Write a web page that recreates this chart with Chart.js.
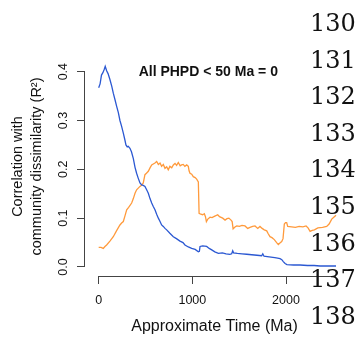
<!DOCTYPE html>
<html>
<head>
<meta charset="utf-8">
<script src="https://cdn.jsdelivr.net/npm/chart.js@4.4.0/dist/chart.umd.min.js"></script>
<style>
  html, body { margin: 0; padding: 0; background: #fff; }
  #wrap { position: relative; width: 362px; height: 341px; }
  #lines {
    position: absolute; left: 310px; top: 5px;
    font-family: "DejaVu Serif", serif; font-size: 24px; line-height: 36.6px;
    color: #111;
  }
</style>
</head>
<body>
<div id="wrap">
  <canvas id="lineChart" width="362" height="341"></canvas>
  <div id="lines">130<br>131<br>132<br>133<br>134<br>135<br>136<br>137<br>138</div>
</div>
<script>
// time in Ma, R²
const blueTime = [0, 15, 30, 45, 60, 70, 85, 100, 120, 140, 156, 175, 192, 210, 227, 245, 263, 280, 291, 305,
  316, 334, 350, 370, 388, 405, 420, 441, 459, 476, 494, 512, 530, 548, 566, 583, 601, 619, 637, 655,
  672, 690, 708, 726, 760, 797, 830, 868, 900, 921, 957, 993, 1030, 1064, 1075, 1082, 1110, 1153, 1180, 1207,
  1240, 1278, 1320, 1360, 1400, 1420, 1431, 1440, 1480, 1530, 1580, 1634, 1690, 1740, 1752, 1765, 1800, 1840, 1880, 1910,
  1936, 1955, 1971, 1990, 2010, 2080, 2150, 2230, 2300, 2363, 2440, 2534];
const blueR2 = [0.367, 0.375, 0.393, 0.398, 0.405, 0.411, 0.402, 0.396, 0.384, 0.370, 0.356, 0.342, 0.329, 0.316, 0.300, 0.288, 0.274, 0.260, 0.250, 0.246,
  0.247, 0.243, 0.236, 0.222, 0.204, 0.192, 0.183, 0.172, 0.168, 0.167, 0.165, 0.158, 0.151, 0.140, 0.131, 0.124, 0.117, 0.108, 0.100, 0.093,
  0.086, 0.083, 0.079, 0.076, 0.069, 0.062, 0.058, 0.053, 0.050, 0.045, 0.041, 0.038, 0.036, 0.031, 0.032, 0.042, 0.043, 0.042, 0.038, 0.035,
  0.031, 0.028, 0.029, 0.027, 0.026, 0.027, 0.033, 0.029, 0.028, 0.027, 0.026, 0.025, 0.024, 0.023, 0.027, 0.022, 0.021, 0.020, 0.019, 0.018,
  0.017, 0.015, 0.011, 0.007, 0.005, 0.004, 0.004, 0.003, 0.003, 0.002, 0.002, 0.002];

const orangeTime = [0, 25, 49, 67, 85, 120, 156, 190, 227, 245, 263, 280, 299, 320, 352, 370, 388, 405, 420, 441,
  460, 476, 494, 510, 530, 548, 566, 583, 601, 619, 637, 655, 672, 690, 708, 726, 743, 760, 780, 797,
  815, 832, 850, 870, 885, 903, 920, 940, 957, 965, 975, 993, 1010, 1030, 1046, 1064, 1072, 1090, 1110, 1128,
  1140, 1150, 1165, 1189, 1210, 1240, 1271, 1290, 1324, 1349, 1370, 1390, 1413, 1425, 1435, 1455, 1474, 1502, 1530, 1562,
  1591, 1615, 1644, 1669, 1698, 1722, 1745, 1768, 1794, 1810, 1829, 1850, 1875, 1900, 1918, 1935, 1954, 1968, 1982, 1995,
  2007, 2018, 2060, 2100, 2140, 2180, 2214, 2235, 2257, 2280, 2303, 2340, 2390, 2434, 2460, 2488, 2510, 2534];
const orangeR2 = [0.040, 0.040, 0.038, 0.042, 0.045, 0.053, 0.062, 0.074, 0.086, 0.090, 0.093, 0.104, 0.117, 0.122, 0.131, 0.140, 0.151, 0.158, 0.161, 0.165,
  0.168, 0.172, 0.189, 0.192, 0.196, 0.203, 0.209, 0.211, 0.213, 0.216, 0.210, 0.213, 0.206, 0.210, 0.202, 0.205, 0.199, 0.206, 0.203, 0.209,
  0.212, 0.208, 0.214, 0.207, 0.209, 0.210, 0.206, 0.209, 0.206, 0.197, 0.192, 0.190, 0.185, 0.183, 0.180, 0.174, 0.110, 0.108, 0.107, 0.109,
  0.103, 0.093, 0.098, 0.102, 0.101, 0.104, 0.107, 0.103, 0.100, 0.096, 0.099, 0.100, 0.096, 0.093, 0.078, 0.082, 0.084, 0.083, 0.085, 0.084,
  0.079, 0.081, 0.083, 0.084, 0.079, 0.083, 0.079, 0.076, 0.074, 0.068, 0.062, 0.060, 0.056, 0.050, 0.046, 0.049, 0.052, 0.058, 0.088, 0.091,
  0.091, 0.083, 0.082, 0.081, 0.083, 0.082, 0.084, 0.080, 0.073, 0.075, 0.076, 0.080, 0.081, 0.083, 0.088, 0.098, 0.102, 0.106];

const xTicks = [0, 1000, 2000];
const xTickLabels = ["0", "1000", "2000"];
const yTicks = [0, 0.1, 0.2, 0.3, 0.4];
const yTickLabels = ["0.0", "0.1", "0.2", "0.3", "0.4"];
const panelLabel = "All PHPD < 50 Ma = 0";

Chart.defaults.font.family = "'Liberation Sans', Arial, sans-serif";
Chart.defaults.color = "#111";

const toPoints = (xs, ys) => xs.map((x, i) => ({ x: x, y: ys[i] }));

// R-style axes: lines only over the tick range, rotated y labels, panel text
const rAxes = {
  id: "rAxes",
  afterDraw(chart) {
    const ctx = chart.ctx;
    const xs = chart.scales.x;
    const ys = chart.scales.y;
    const left = chart.chartArea.left - 0.5;
    const bottom = chart.chartArea.bottom + 0.5;
    ctx.save();
    ctx.strokeStyle = "#444";
    ctx.lineWidth = 1;
    ctx.beginPath();
    ctx.moveTo(left, ys.getPixelForValue(yTicks[0]));
    ctx.lineTo(left, ys.getPixelForValue(yTicks[yTicks.length - 1]));
    ctx.moveTo(xs.getPixelForValue(xTicks[0]), bottom);
    ctx.lineTo(xs.getPixelForValue(blueTime[blueTime.length - 1]), bottom);
    ctx.stroke();

    ctx.fillStyle = "#111";
    ctx.font = "12.5px 'Liberation Sans', Arial, sans-serif";
    ctx.textAlign = "center";
    ctx.textBaseline = "alphabetic";
    yTicks.forEach((v, i) => {
      ctx.save();
      ctx.translate(66.5, ys.getPixelForValue(v));
      ctx.rotate(-Math.PI / 2);
      ctx.fillText(yTickLabels[i], 0, 0);
      ctx.restore();
    });

    ctx.font = "bold 14px 'Liberation Sans', Arial, sans-serif";
    ctx.textBaseline = "middle";
    ctx.fillText(panelLabel, xs.getPixelForValue(1170), ys.getPixelForValue(0.398));
    ctx.restore();
  }
};

new Chart(document.getElementById("lineChart"), {
  type: "line",
  data: {
    datasets: [
      {
        data: toPoints(blueTime, blueR2),
        borderColor: "#2b58d2",
        borderWidth: 1.3,
        pointRadius: 0,
        tension: 0
      },
      {
        data: toPoints(orangeTime, orangeR2),
        borderColor: "#ff9a3c",
        borderWidth: 1.3,
        pointRadius: 0,
        tension: 0
      }
    ]
  },
  options: {
    responsive: false,
    animation: false,
    layout: { padding: { top: 57, right: 18, left: 0, bottom: 0 } },
    plugins: { legend: { display: false }, tooltip: { enabled: false } },
    scales: {
      x: {
        type: "linear",
        min: -146,
        max: 2619,
        afterFit: (s) => { s.height = 65; },
        afterBuildTicks: (s) => { s.ticks = xTicks.map((v) => ({ value: v })); },
        grid: { drawOnChartArea: false, tickLength: 8, color: "#444" },
        border: { display: false },
        ticks: {
          padding: 9,
          font: { size: 12.5 },
          color: "#111",
          maxRotation: 0,
          callback: (v) => xTickLabels[xTicks.indexOf(v)]
        },
        title: {
          display: true,
          text: "Approximate Time (Ma)",
          font: { size: 16 },
          color: "#111",
          padding: { top: 0, bottom: 5 }
        }
      },
      y: {
        min: -0.0185,
        max: 0.43,
        afterFit: (s) => { s.width = 85; },
        afterBuildTicks: (s) => { s.ticks = yTicks.map((v) => ({ value: v })); },
        grid: { drawOnChartArea: false, tickLength: 8, color: "#444" },
        border: { display: false },
        ticks: { display: false },
        title: {
          display: true,
          text: ["Correlation with", "community dissimilarity (R²)"],
          font: { size: 14.5, lineHeight: 1.31 },
          color: "#111",
          padding: { top: 9, bottom: 0 }
        }
      }
    }
  },
  plugins: [rAxes]
});
</script>
</body>
</html>
